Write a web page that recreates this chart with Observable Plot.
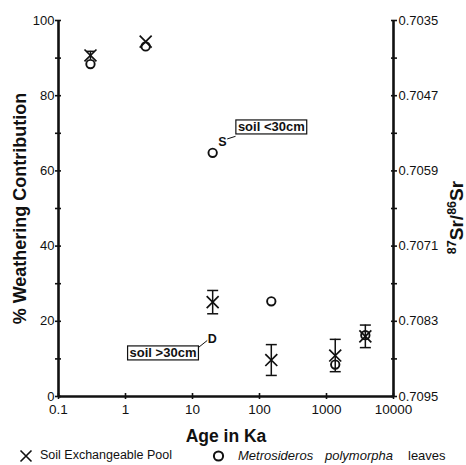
<!DOCTYPE html>
<html><head><meta charset="utf-8">
<script src="https://cdn.jsdelivr.net/npm/d3@7"></script>
<script src="https://cdn.jsdelivr.net/npm/@observablehq/plot@0.6"></script>
<style>
body{margin:0;background:#fff;font-family:"Liberation Sans",Arial,sans-serif;}
#legend{position:relative;height:17px;font-size:12.5px;color:#111;width:466px;}
#legend span,#legend svg{position:absolute;top:0;white-space:nowrap;}
</style></head><body>
<div id="chart"></div>
<div id="legend"></div>
<script>
// ---- data ----
const ages        = [0.3, 2.0, 20, 150, 1350, 3800];
const exchangePct = [90.7, 94.4, 25.1, 9.7, 10.9, 16.0];
const exchangeErr = [1.1, 0, 3.1, 4.1, 4.3, 3.0];
const leavesPct   = [88.4, 93.1, 64.8, 25.3, 8.5, 16.3];

const xTicks   = [0.1, 1, 10, 100, 1000, 10000];
const yTicks   = [0, 20, 40, 60, 80, 100];
const yMinor   = [10, 30, 50, 70, 90];
const srTicks  = [0.7095, 0.7083, 0.7071, 0.7059, 0.7047, 0.7035];
const srMinor  = [0.7089, 0.7077, 0.7065, 0.7053, 0.7041];
const srMax = 0.7095, srMin = 0.7035;

// annotations
const boxLabels = ["soil <30cm", "soil >30cm"];
const boxX = [150, 3.63];
const boxY = [71.6, 11.5];
const letters = ["S", "D"];
const letterX = [28, 19.7];
const letterY = [67.6, 15.2];
const leadX1 = [33, 16.6], leadY1 = [68.5, 14.9];
const leadX2 = [43.9, 12.4], leadY2 = [69.2, 13.1];

const legendLabels = ["Soil Exchangeable Pool", "Metrosideros", "polymorpha", "leaves"];

// ---- tables ----
const pct = s => (srMax - s) / (srMax - srMin) * 100;
const exch = ages.map((a, i) => ({age: a, v: exchangePct[i], lo: exchangePct[i] - exchangeErr[i], hi: exchangePct[i] + exchangeErr[i], e: exchangeErr[i]}));
const bars = exch.filter(d => d.e > 0);
const leaves = ages.map((a, i) => ({age: a, v: leavesPct[i]}));
const boxes = boxLabels.map((t, i) => ({t, x: boxX[i], y: boxY[i]}));
const lets = letters.map((t, i) => ({t, x: letterX[i], y: letterY[i]}));
const leads = letters.map((t, i) => ({x1: leadX1[i], y1: leadY1[i], x2: leadX2[i], y2: leadY2[i]}));
const allY = [...yTicks, ...yMinor];
const allSr = [...srTicks, ...srMinor].map(pct);

const cap = {draw(ctx, size) { const r = Math.sqrt(size / Math.PI); ctx.moveTo(-r, 0); ctx.lineTo(r, 0); }};

const ink = "#111";
const srTitle = "87Sr/86Sr";
const plot = Plot.plot({
  width: 466, height: 448,
  marginLeft: 58, marginRight: 73, marginTop: 20, marginBottom: 52,
  x: {type: "log", domain: [0.1, 10000]},
  y: {domain: [0, 100]},
  style: {fontFamily: '"Liberation Sans", Arial, sans-serif', fontSize: "13px", color: ink, background: "white"},
  marks: [
    // tick marks crossing the axes
    Plot.axisX({ticks: xTicks, tickSize: 6, dy: -3, tickFormat: () => "", label: null, strokeWidth: 1.6}),
    Plot.axisX({ticks: xTicks, tickSize: 0, tickPadding: 8, tickFormat: d => String(d), label: null, fontSize: 13.5}),
    Plot.axisY({ticks: allY, tickSize: 6, dx: 3, tickFormat: () => "", label: null, strokeWidth: 1.6}),
    Plot.axisY({ticks: yTicks, tickSize: 0, tickPadding: 4, label: null}),
    Plot.axisY({anchor: "right", ticks: allSr, tickSize: 6, dx: -3, tickFormat: () => "", label: null, strokeWidth: 1.6}),
    Plot.axisY({anchor: "right", ticks: srTicks.map(pct), tickSize: 0, tickPadding: 5,
      tickFormat: d => (srMax - d / 100 * (srMax - srMin)).toFixed(4), label: null}),
    // axis lines
    Plot.ruleX([0.1, 10000], {stroke: ink, strokeWidth: 2.6}),
    Plot.ruleY([0], {stroke: ink, strokeWidth: 2.6}),
    // error bars
    Plot.ruleX(bars, {x: "age", y1: "lo", y2: "hi", stroke: ink, strokeWidth: 1.5}),
    Plot.dot(bars.filter(d => d.age > 1), {x: "age", y: "lo", symbol: cap, r: 5.5, stroke: ink, strokeWidth: 1.5}),
    Plot.dot(bars.filter(d => d.age > 1), {x: "age", y: "hi", symbol: cap, r: 5.5, stroke: ink, strokeWidth: 1.5}),
    Plot.dot(bars.filter(d => d.age < 1), {x: "age", y: "hi", symbol: cap, r: 4, stroke: ink, strokeWidth: 1.5}),
    // points
    Plot.dot(exch, {x: "age", y: "v", symbol: "times", r: 5.5, stroke: ink, strokeWidth: 1.7}),
    Plot.dot(leaves, {x: "age", y: "v", symbol: "circle", r: 4.2, stroke: ink, strokeWidth: 1.9, fill: "none"}),
    // annotations
    Plot.link(leads, {x1: "x1", y1: "y1", x2: "x2", y2: "y2", stroke: ink, strokeWidth: 1}),
    Plot.text(lets, {x: "x", y: "y", text: "t", fontSize: 12.5, fontWeight: "bold", fill: ink}),
    Plot.text(boxes, {x: "x", y: "y", text: "t", fontSize: 13, fontWeight: "bold", fill: ink}),
    // axis titles
    Plot.text(["Age in Ka"], {frameAnchor: "bottom", dy: 45, fontSize: 17.5, fontWeight: "bold", fill: ink}),
    Plot.text(["% Weathering Contribution"], {frameAnchor: "left", textAnchor: "middle", dx: -38, rotate: -90, fontSize: 18, fontWeight: "bold", fill: ink}),
    Plot.text([srTitle], {frameAnchor: "right", textAnchor: "middle", dx: 63, dy: 9, rotate: -90, fontSize: 19, fontWeight: "bold", fill: ink})
  ]
});
document.getElementById("chart").appendChild(plot);

// boxes around annotation labels, superscripts in the Sr title
d3.select(plot).selectAll("text").each(function () {
  const txt = this.textContent;
  if (boxLabels.includes(txt)) {
    const b = this.getBBox();
    const px = 2, py = -0.5;
    const r = d3.select(this.parentNode).insert("rect", () => this)
      .attr("x", b.x - px).attr("y", b.y - py).attr("width", b.width + 2 * px).attr("height", b.height + 2 * py)
      .attr("fill", "white").attr("stroke", ink).attr("stroke-width", 1.2);
    const tr = this.getAttribute("transform");
    if (tr) r.attr("transform", tr);
  } else if (txt === srTitle) {
    const t = d3.select(this);
    t.text(null);
    const parts = [["87", true], ["Sr/", false], ["86", true], ["Sr", false]];
    let up = false;
    for (const [s, sup] of parts) {
      const ts = t.append("tspan").text(s);
      if (sup) { ts.attr("font-size", "12.5px"); if (!up) { ts.attr("dy", -7); up = true; } }
      else { ts.attr("font-size", "19px"); if (up) { ts.attr("dy", 7); up = false; } }
    }
  }
});

// legend
const legend = d3.select("#legend");
const lx = legend.append("svg").attr("width", 14).attr("height", 14).style("left", "19px").style("top", "1px");
lx.append("path").attr("d", "M1.5,1.5L12.5,12.5M12.5,1.5L1.5,12.5").attr("stroke", ink).attr("stroke-width", 1.6);
legend.append("span").style("left", "40px").text(legendLabels[0]);
const lo = legend.append("svg").attr("width", 13).attr("height", 14).style("left", "212px").style("top", "1px");
lo.append("circle").attr("cx", 6.5).attr("cy", 7).attr("r", 4.6).attr("fill", "none").attr("stroke", ink).attr("stroke-width", 2);
legend.append("span").style("left", "238px").style("font-style", "italic").style("font-size", "13px").text(legendLabels[1]);
legend.append("span").style("left", "325px").style("font-style", "italic").style("font-size", "13px").text(legendLabels[2]);
legend.append("span").style("left", "408px").style("font-size", "13px").text(legendLabels[3]);
</script>
</body></html>
